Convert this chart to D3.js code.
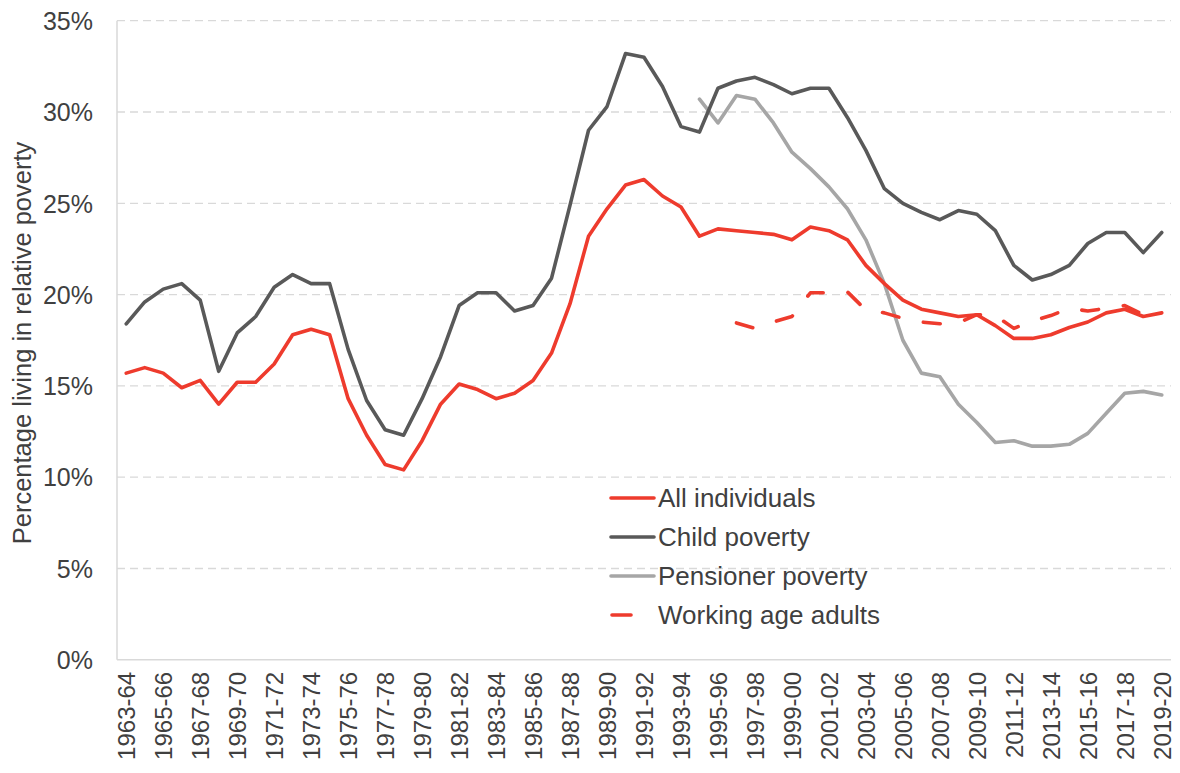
<!DOCTYPE html>
<html><head><meta charset="utf-8">
<script src="https://cdn.jsdelivr.net/npm/d3@7"></script>
<style>body{margin:0;background:#fff;} text{font-family:"Liberation Sans",Arial,sans-serif;fill:#404040;}</style>
</head><body>
<svg id="c" width="1180" height="773"></svg>
<script>
const startYears = d3.range(1963, 2020);
const categories = startYears.map(y => y + "-" + String((y + 1) % 100).padStart(2, "0"));

const allIndividuals = [15.7,16.0,15.7,14.9,15.3,14.0,15.2,15.2,16.2,17.8,18.1,17.8,14.3,12.3,10.7,10.4,12.0,14.0,15.1,14.8,14.3,14.6,15.3,16.8,19.5,23.2,24.7,26.0,26.3,25.4,24.8,23.2,23.6,23.5,23.4,23.3,23.0,23.7,23.5,23.0,21.6,20.6,19.7,19.2,19.0,18.8,18.9,18.3,17.6,17.6,17.8,18.2,18.5,19.0,19.2,18.8,19.0];
const childPoverty = [18.4,19.6,20.3,20.6,19.7,15.8,17.9,18.8,20.4,21.1,20.6,20.6,17.0,14.2,12.6,12.3,14.3,16.6,19.4,20.1,20.1,19.1,19.4,20.9,24.9,29.0,30.3,33.2,33.0,31.4,29.2,28.9,31.3,31.7,31.9,31.5,31.0,31.3,31.3,29.7,27.9,25.8,25.0,24.5,24.1,24.6,24.4,23.5,21.6,20.8,21.1,21.6,22.8,23.4,23.4,22.3,23.4];
const pensionerPoverty = [null,null,null,null,null,null,null,null,null,null,null,null,null,null,null,null,null,null,null,null,null,null,null,null,null,null,null,null,null,null,null,30.7,29.4,30.9,30.7,29.4,27.8,26.9,25.9,24.7,23.0,20.6,17.5,15.7,15.5,14.0,13.0,11.9,12.0,11.7,11.7,11.8,12.4,13.5,14.6,14.7,14.5];
const workingAge = [null,null,null,null,null,null,null,null,null,null,null,null,null,null,null,null,null,null,null,null,null,null,null,null,null,null,null,null,null,null,null,null,null,18.45,18.15,18.5,18.8,20.1,20.1,20.15,19.15,19.0,18.7,18.5,18.4,18.45,18.9,18.85,18.15,18.55,18.85,19.25,19.1,19.25,19.4,18.9,19.0];
const yTicks = [0,5,10,15,20,25,30,35];

const series = [
  {name:"All individuals", values: allIndividuals, color:"#ee3b2d", dash:null},
  {name:"Child poverty", values: childPoverty, color:"#595959", dash:null},
  {name:"Pensioner poverty", values: pensionerPoverty, color:"#a6a6a6", dash:null},
  {name:"Working age adults", values: workingAge, color:"#ee3b2d", dash:"17,25"}
];

const svg = d3.select("#c");
const L = 117, R = 1171, T = 20.7, B = 659.8;
const x = d3.scalePoint().domain(categories).range([L, R]).padding(0.5);
const y = d3.scaleLinear().domain([0, 35]).range([B, T]);

// gridlines
svg.append("g").selectAll("line").data(yTicks.filter(d => d > 0)).join("line")
  .attr("x1", L).attr("x2", R).attr("y1", d => y(d)).attr("y2", d => y(d))
  .attr("stroke", "#d9d9d9").attr("stroke-width", 1.3).attr("stroke-dasharray", "8,5");

// axes lines
svg.append("line").attr("x1", L).attr("x2", L).attr("y1", T).attr("y2", B).attr("stroke", "#d9d9d9").attr("stroke-width", 1.5);
svg.append("line").attr("x1", L).attr("x2", R).attr("y1", B).attr("y2", B).attr("stroke", "#d9d9d9").attr("stroke-width", 1.5);

// y axis
const yAxis = d3.axisLeft(y).tickValues(yTicks).tickFormat(d => d + "%").tickSize(0).tickPadding(0);
const gy = svg.append("g").attr("transform", `translate(${L - 24},0)`).call(yAxis);
gy.select(".domain").remove();
gy.selectAll("text").style("font-size", "25px").attr("fill", "#404040").attr("dy", "0.35em");

// x axis
const xAxis = d3.axisBottom(x).tickValues(categories.filter((d, i) => i % 2 === 0)).tickSize(0);
const gx = svg.append("g").attr("transform", `translate(0,${B})`).call(xAxis);
gx.select(".domain").remove();
gx.selectAll("text").style("font-size", "24px").attr("fill", "#404040")
  .attr("transform", "rotate(-90)").attr("text-anchor", "end").attr("x", -12).attr("y", 0).attr("dy", "0.35em");

// y label
svg.append("text").attr("transform", "translate(31,343) rotate(-90)").attr("text-anchor", "middle")
  .style("font-size", "25.5px").text("Percentage living in relative poverty");

// lines
const line = d3.line().defined(d => d != null).x((d, i) => x(categories[i])).y(d => y(d));
const drawOrder = [2, 1, 3, 0];
drawOrder.forEach(k => {
  const s = series[k];
  svg.append("path").datum(s.values).attr("d", line).attr("fill", "none")
    .attr("stroke", s.color).attr("stroke-width", 3.6)
    .attr("stroke-linejoin", "round").attr("stroke-linecap", "round")
    .attr("stroke-dasharray", s.dash);
});

// legend
const lg = svg.append("g");
series.forEach((s, i) => {
  const cy = 498 + i * 39;
  lg.append("line").attr("x1", s.dash ? 612 : 611).attr("x2", s.dash ? 631 : 654).attr("y1", cy).attr("y2", cy)
    .attr("stroke", s.color).attr("stroke-width", 3.6).attr("stroke-linecap", "round");
  lg.append("text").attr("x", 658).attr("y", cy).attr("dy", "0.35em").style("font-size", "26px").text(s.name);
});
</script>
</body></html>
